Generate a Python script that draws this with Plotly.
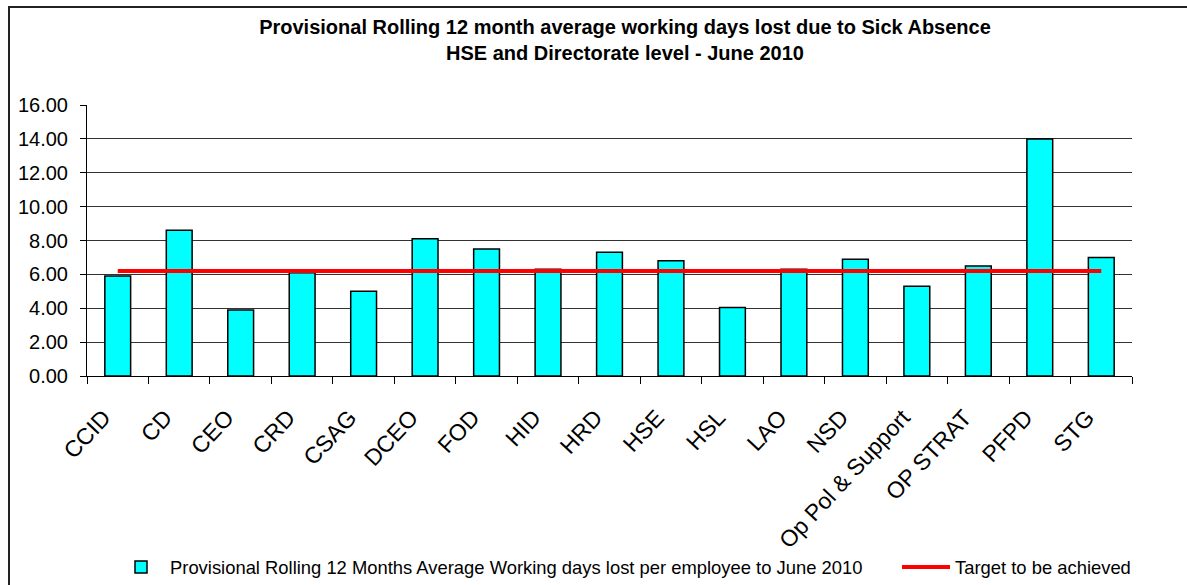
import plotly.graph_objects as go

categories = ["CCID", "CD", "CEO", "CRD", "CSAG", "DCEO", "FOD", "HID", "HRD", "HSE",
              "HSL", "LAO", "NSD", "Op Pol & Support", "OP STRAT", "PFPD", "STG"]
sick_days = [5.9, 8.6, 3.9, 6.1, 5.0, 8.1, 7.5, 6.3, 7.3, 6.8,
             4.05, 6.3, 6.9, 5.3, 6.5, 14.0, 7.0]
target = [6.2] * len(categories)
y_ticks = [0, 2, 4, 6, 8, 10, 12, 14, 16]

W, H = 1187, 585
L, R, T, B = 87, 55, 105, 209
pw, ph = W - L - R, H - T - B

def px_x(p):
    return (p - L) / pw

def px_y(p):
    return (H - B - p) / ph

FONT = "Liberation Sans, Arial, sans-serif"

fig = go.Figure()
fig.add_trace(go.Bar(
    x=categories, y=sick_days,
    name="Provisional Rolling 12 Months Average Working days lost per employee to June 2010",
    marker=dict(color="#00FFFF", line=dict(color="#000000", width=1.5)),
    legendwidth=722,
))
fig.add_trace(go.Scatter(
    x=categories, y=target, mode="lines",
    name="Target to be achieved",
    line=dict(color="#FF0000", width=4),
))

fig.update_layout(
    width=W, height=H,
    margin=dict(l=L, r=R, t=T, b=B, autoexpand=False),
    paper_bgcolor="white", plot_bgcolor="white",
    font=dict(family=FONT, color="black"),
    bargap=0.58,
    showlegend=True,
    title=dict(
        text="Provisional Rolling 12 month average working days lost due to Sick Absence<br>HSE and Directorate level - June 2010",
        font=dict(family=FONT, size=20, color="black", weight="bold"),
        x=625 / W, xanchor="center", xref="container",
        y=1 - 34 / H, yanchor="top", yref="container",
    ),
    legend=dict(
        orientation="h",
        x=px_x(1136), xanchor="right",
        y=px_y(567), yanchor="middle",
        font=dict(family=FONT, size=18.4, color="black"),
        bgcolor="rgba(0,0,0,0)",
        itemwidth=48,
        traceorder="normal",
    ),
    shapes=[dict(
        type="rect", xref="paper", yref="paper",
        x0=px_x(9), x1=px_x(1195), y0=px_y(7), y1=px_y(595),
        line=dict(color="#222222", width=2), fillcolor="rgba(0,0,0,0)", layer="below",
    )],
)

fig.update_xaxes(
    type="category",
    tickangle=-47,
    tickson="boundaries",
    ticks="outside", ticklen=7, tickcolor="black",
    showline=True, linecolor="black", linewidth=1,
    showgrid=False,
    ticklabelstandoff=18,
    ticklabelshift=-14,
    tickfont=dict(family=FONT, size=23, color="black"),
)
fig.update_yaxes(
    range=[0, 16],
    tickvals=y_ticks,
    tickformat=".2f",
    ticks="outside", ticklen=6, tickcolor="black",
    showline=True, linecolor="black", linewidth=1,
    showgrid=True, gridcolor="#333333", gridwidth=1,
    zeroline=False,
    ticklabelstandoff=8,
    tickfont=dict(family=FONT, size=20, color="black"),
)

fig.write_html("out.html", config={"displayModeBar": False},
               post_script="document.body.style.margin='0px';")
